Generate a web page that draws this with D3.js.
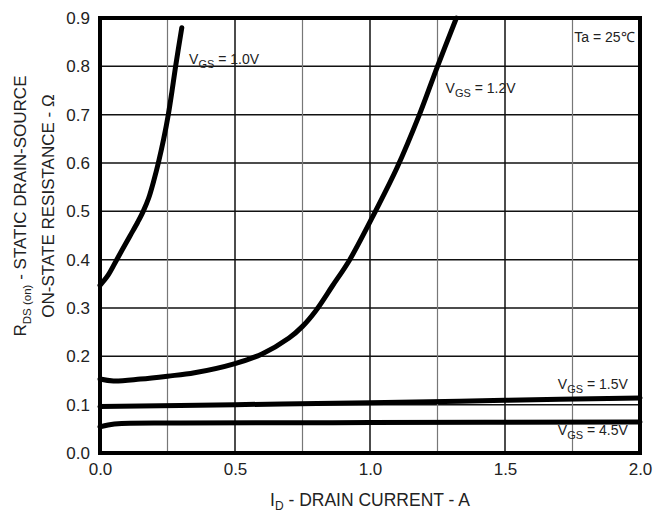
<!DOCTYPE html>
<html lang="en">
<head>
<meta charset="utf-8">
<title>RDS(on) vs ID</title>
<script src="https://cdn.jsdelivr.net/npm/d3@7"></script>
<style>
  body { margin: 0; background: #fff; }
  text { font-family: "Liberation Sans", Arial, sans-serif; fill: #222; }
</style>
</head>
<body>
<script>
// ---- data ----
var xTicks = [0, 0.5, 1.0, 1.5, 2.0];
var yTicks = [0, 0.1, 0.2, 0.3, 0.4, 0.5, 0.6, 0.7, 0.8, 0.9];

// [ID (A), RDS(on) (ohm)]
var vgs10 = [[0, 0.347], [0.03, 0.368], [0.062, 0.4], [0.11, 0.448], [0.14, 0.478], [0.16, 0.5],
             [0.18, 0.527], [0.2, 0.565], [0.216, 0.6], [0.236, 0.65], [0.253, 0.7], [0.267, 0.75],
             [0.28, 0.8], [0.303, 0.88]];
var vgs12 = [[0, 0.153], [0.05, 0.149], [0.15, 0.153], [0.25, 0.159], [0.35, 0.166], [0.5, 0.185],
             [0.6, 0.205], [0.7, 0.238], [0.75, 0.262], [0.8, 0.295], [0.86, 0.345], [0.925, 0.4],
             [1.02, 0.5], [1.1, 0.59], [1.183, 0.7], [1.25, 0.8], [1.32, 0.9]];
var vgs15 = [[0, 0.096], [0.5, 0.1], [1.0, 0.104], [1.5, 0.109], [2.0, 0.114]];
var vgs45 = [[0, 0.054], [0.03, 0.058], [0.08, 0.061], [0.3, 0.062], [1.0, 0.063], [2.0, 0.064]];

var w = 666, h = 516;
// plot box (named so they don't clash with window.top)
var pL = 100, pR = 640, pT = 18, pB = 453;

var svg = d3.select("body").append("svg")
  .attr("width", w)
  .attr("height", h);

var x = d3.scaleLinear().domain([0, 2]).range([pL, pR]);
var y = d3.scaleLinear().domain([0, 0.9]).range([pB, pT]);

// grid
var grid = svg.append("g");
grid.selectAll("line.h")
  .data(yTicks.slice(1, -1))
  .enter().append("line")
  .attr("x1", pL).attr("x2", pR)
  .attr("y1", function(d) { return y(d); })
  .attr("y2", function(d) { return y(d); })
  .attr("stroke", "#111").attr("stroke-width", 1.5);

var xMinor = [0.25, 0.5, 0.75, 1.0, 1.25, 1.5, 1.75];
grid.selectAll("line.v")
  .data(xMinor)
  .enter().append("line")
  .attr("y1", pT).attr("y2", pB)
  .attr("x1", function(d) { return x(d); })
  .attr("x2", function(d) { return x(d); })
  .attr("stroke", function(d) { return d % 0.5 === 0 ? "#111" : "#777"; })
  .attr("stroke-width", function(d) { return d % 0.5 === 0 ? 1.5 : 1.2; });

// curves
var line = d3.line()
  .x(function(d) { return x(d[0]); })
  .y(function(d) { return y(d[1]); })
  .curve(d3.curveCatmullRom.alpha(0.5));

[vgs10, vgs12, vgs15, vgs45].forEach(function(s) {
  svg.append("path")
    .datum(s)
    .attr("d", line)
    .attr("fill", "none")
    .attr("stroke", "#000")
    .attr("stroke-width", 5)
    .attr("stroke-linecap", "round");
});

// frame
svg.append("rect")
  .attr("x", pL).attr("y", pT)
  .attr("width", pR - pL).attr("height", pB - pT)
  .attr("fill", "none").attr("stroke", "#000").attr("stroke-width", 4);

// axes (labels only)
var xAxis = d3.axisBottom(x).tickValues(xTicks).tickSize(0).tickPadding(10).tickFormat(d3.format(".1f"));
var gx = svg.append("g").attr("transform", "translate(0," + pB + ")").call(xAxis);
gx.select(".domain").remove();
gx.selectAll("text").attr("font-size", 17).attr("fill", "#222")
  .style("font-family", "'Liberation Sans', Arial, sans-serif");

var yAxis = d3.axisLeft(y).tickValues(yTicks).tickSize(0).tickPadding(10).tickFormat(d3.format(".1f"));
var gy = svg.append("g").attr("transform", "translate(" + pL + ",0)").call(yAxis);
gy.select(".domain").remove();
gy.selectAll("text").attr("font-size", 17).attr("fill", "#222")
  .style("font-family", "'Liberation Sans', Arial, sans-serif");

// curve labels
function vgsLabel(px, py, val, anchor) {
  var t = svg.append("text")
    .attr("x", px).attr("y", py)
    .attr("font-size", 14)
    .attr("text-anchor", anchor || "start");
  t.append("tspan").text("V");
  t.append("tspan").attr("dy", 4).attr("font-size", 11).text("GS");
  t.append("tspan").attr("dy", -4).text(" = " + val);
}
vgsLabel(x(0.33), y(0.805), "1.0V");
vgsLabel(x(1.28), y(0.745), "1.2V");
vgsLabel(x(1.955), y(0.132), "1.5V", "end");
vgsLabel(x(1.955), y(0.037), "4.5V", "end");

svg.append("text")
  .attr("x", x(1.98)).attr("y", y(0.85))
  .attr("font-size", 14)
  .attr("text-anchor", "end")
  .text("Ta = 25\u2103");

// axis titles
var xt = svg.append("text")
  .attr("x", 370).attr("y", 506)
  .attr("text-anchor", "middle")
  .attr("font-size", 17.5);
xt.append("tspan").text("I");
xt.append("tspan").attr("dy", 4).attr("font-size", 12).text("D");
xt.append("tspan").attr("dy", -4).text(" - DRAIN CURRENT - A");

var yt1 = svg.append("text")
  .attr("transform", "translate(26,206) rotate(-90)")
  .attr("text-anchor", "middle")
  .attr("font-size", 17);
yt1.append("tspan").text("R");
yt1.append("tspan").attr("dy", 5).attr("font-size", 11.5).text("DS (on)");
yt1.append("tspan").attr("dy", -5).text(" - STATIC DRAIN-SOURCE");

svg.append("text")
  .attr("transform", "translate(54,206) rotate(-90)")
  .attr("text-anchor", "middle")
  .attr("font-size", 17)
  .text("ON-STATE RESISTANCE - \u03A9");
</script>
</body>
</html>
